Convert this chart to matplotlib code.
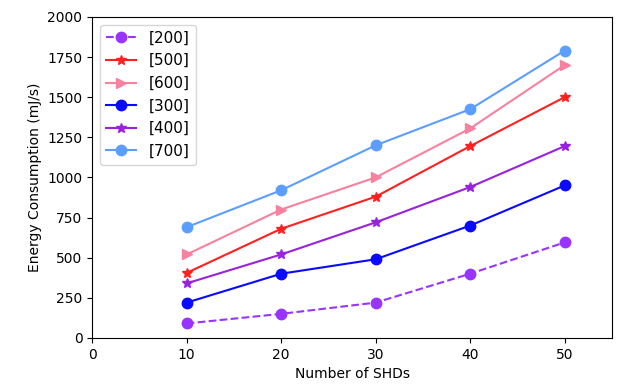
import numpy as np
import matplotlib
matplotlib.use('Agg')
import matplotlib.pyplot as plt

shds = [10, 20, 30, 40, 50]

e200 = [90, 150, 220, 400, 595]
e500 = [405, 680, 880, 1195, 1500]
e600 = [520, 800, 1000, 1305, 1700]
e300 = [220, 400, 490, 700, 950]
e400 = [340, 520, 720, 940, 1195]
e700 = [690, 920, 1200, 1425, 1790]

fig = plt.figure(figsize=(6.27, 3.84), dpi=100)
ax = fig.add_axes([0.147, 0.12, 0.829, 0.836])

ms = 7.5
ax.plot(shds, e200, '--o', color='#9933ff', ms=ms, label='[200]')
ax.plot(shds, e500, '-*', color='#ff2020', ms=ms, label='[500]')
ax.plot(shds, e600, '->', color='#f7819f', ms=ms, label='[600]')
ax.plot(shds, e300, '-o', color='#0a0aff', ms=ms, label='[300]')
ax.plot(shds, e400, '-*', color='#9922dd', ms=ms, label='[400]')
ax.plot(shds, e700, '-o', color='#5c9eff', ms=ms, label='[700]')

ax.set_xlim(0, 55)
ax.set_ylim(0, 2000)
ax.set_xlabel('Number of SHDs')
ax.set_ylabel('Energy Consumption (mJ/s)')
ax.legend(loc='upper left', fontsize=11)

fig.savefig('out.png', dpi=100)
